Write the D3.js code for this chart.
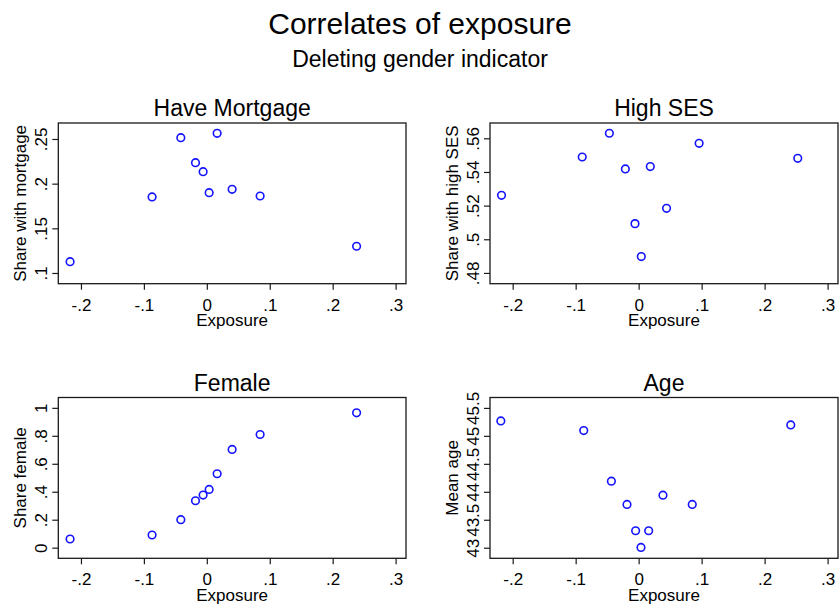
<!DOCTYPE html>
<html>
<head>
<meta charset="utf-8">
<script src="https://cdn.jsdelivr.net/npm/d3@7"></script>
<style>
  html, body { margin: 0; padding: 0; background: #ffffff; }
  svg { display: block; font-family: "Liberation Sans", Arial, Helvetica, sans-serif; }
</style>
</head>
<body>
<svg id="chart" width="839" height="604"></svg>
<script>
// Binned exposure values and outcome means, one set per panel
const xTicks = [-0.2, -0.1, 0, 0.1, 0.2, 0.3];

const mortgageExposure = [-0.2173, -0.0870, -0.0413, -0.0180, -0.0059, 0.0037, 0.0164, 0.0402, 0.0847, 0.2380];
const mortgageShare    = [0.1127, 0.1851, 0.2515, 0.2235, 0.2134, 0.1899, 0.2563, 0.1937, 0.1862, 0.1299];
const mortgageTicks    = [0.1, 0.15, 0.2, 0.25];

const sesExposure = [-0.2177, -0.0896, -0.0465, -0.0211, -0.0058, 0.0042, 0.0185, 0.0443, 0.0960, 0.2526];
const sesShare    = [0.5261, 0.5489, 0.5630, 0.5418, 0.5093, 0.4897, 0.5432, 0.5184, 0.5570, 0.5481];
const sesTicks    = [0.48, 0.5, 0.52, 0.54, 0.56];

const femaleExposure = [-0.2173, -0.0870, -0.0413, -0.0180, -0.0059, 0.0037, 0.0164, 0.0402, 0.0847, 0.2380];
const femaleShare    = [0.0619, 0.0905, 0.2000, 0.3357, 0.3762, 0.4167, 0.5286, 0.7024, 0.8095, 0.9643];
const femaleTicks    = [0, 0.2, 0.4, 0.6, 0.8, 1];

const ageExposure = [-0.2188, -0.0872, -0.0433, -0.0185, -0.0048, 0.0037, 0.0159, 0.0386, 0.0851, 0.2415];
const ageMean     = [45.268, 45.095, 44.190, 43.774, 43.304, 43.006, 43.304, 43.940, 43.774, 45.196];
const ageTicks    = [43, 43.5, 44, 44.5, 45, 45.5];

const panelTitles = ["Have Mortgage", "High SES", "Female", "Age"];
const yTitles = ["Share with mortgage", "Share with high SES", "Share female", "Mean age"];
const xTitle = "Exposure";

const panels = [
  { title: panelTitles[0], yTitle: yTitles[0], xs: mortgageExposure, ys: mortgageShare, yTicks: mortgageTicks,
    yDomain: [0.088, 0.2679], box: { x: 58.3, y: 123, w: 347.7, h: 160.7 } },
  { title: panelTitles[1], yTitle: yTitles[1], xs: sesExposure, ys: sesShare, yTicks: sesTicks,
    yDomain: [0.4736, 0.5691], box: { x: 490, y: 123, w: 348, h: 160.7 } },
  { title: panelTitles[2], yTitle: yTitles[2], xs: femaleExposure, ys: femaleShare, yTicks: femaleTicks,
    yDomain: [-0.076, 1.074], box: { x: 58.3, y: 397.5, w: 347.7, h: 160.8 } },
  { title: panelTitles[3], yTitle: yTitles[3], xs: ageExposure, ys: ageMean, yTicks: ageTicks,
    yDomain: [42.811, 45.686], box: { x: 490, y: 397.5, w: 348, h: 160.8 } }
];

const xDomain = [-0.2360, 0.3165];

// Stata-style numbers: plain hyphen, no leading zero
function fmt(v) {
  let s = String(+(+v).toFixed(4));
  s = s.replace(/^(-?)0\./, "$1.");
  return s;
}

const svg = d3.select("#chart");

svg.append("text")
  .attr("x", 420).attr("y", 34)
  .attr("text-anchor", "middle")
  .attr("font-size", 30)
  .attr("fill", "#000")
  .text("Correlates of exposure");

svg.append("text")
  .attr("x", 420).attr("y", 67)
  .attr("text-anchor", "middle")
  .attr("font-size", 23)
  .attr("fill", "#000")
  .text("Deleting gender indicator");

const inkColor = "#1a1a1a";
const markerColor = "#1414ff";

panels.forEach(p => {
  const b = p.box;
  const g = svg.append("g").attr("transform", `translate(${b.x},${b.y})`);

  const x = d3.scaleLinear().domain(xDomain).range([0, b.w]);
  const y = d3.scaleLinear().domain(p.yDomain).range([b.h, 0]);

  // panel title
  g.append("text")
    .attr("x", b.w / 2).attr("y", -7)
    .attr("text-anchor", "middle")
    .attr("font-size", 23)
    .attr("fill", "#000")
    .text(p.title);

  // x axis
  const xAxis = g.append("g")
    .attr("transform", `translate(0,${b.h})`)
    .call(d3.axisBottom(x).tickValues(xTicks).tickFormat(fmt).tickSize(6).tickSizeOuter(0));
  xAxis.select(".domain").remove();
  xAxis.selectAll(".tick line").attr("stroke", inkColor).attr("stroke-width", 1.2);
  xAxis.selectAll(".tick text")
    .attr("font-size", 17)
    .attr("font-family", null)
    .attr("fill", "#000")
    .attr("dy", null)
    .attr("y", 27);

  // y axis with vertical tick labels
  const yAxis = g.append("g")
    .call(d3.axisLeft(y).tickValues(p.yTicks).tickFormat(fmt).tickSize(6).tickSizeOuter(0));
  yAxis.select(".domain").remove();
  yAxis.selectAll(".tick line").attr("stroke", inkColor).attr("stroke-width", 1.2);
  yAxis.selectAll(".tick text")
    .attr("font-size", 17)
    .attr("font-family", null)
    .attr("fill", "#000")
    .attr("x", null).attr("dy", null)
    .attr("text-anchor", "middle")
    .attr("transform", "translate(-11,0) rotate(-90)");

  // frame
  g.append("rect")
    .attr("x", 0).attr("y", 0)
    .attr("width", b.w).attr("height", b.h)
    .attr("fill", "none")
    .attr("stroke", inkColor)
    .attr("stroke-width", 1.3);

  // axis titles
  g.append("text")
    .attr("x", b.w / 2).attr("y", b.h + 42.5)
    .attr("text-anchor", "middle")
    .attr("font-size", 17)
    .attr("fill", "#000")
    .text(xTitle);

  g.append("text")
    .attr("transform", `translate(-32,${b.h / 2}) rotate(-90)`)
    .attr("text-anchor", "middle")
    .attr("font-size", 17)
    .attr("fill", "#000")
    .text(p.yTitle);

  // markers
  const pts = p.xs.map((v, i) => ({ ex: v, val: p.ys[i] }));
  g.selectAll("circle.pt")
    .data(pts)
    .join("circle")
    .attr("class", "pt")
    .attr("cx", d => x(d.ex))
    .attr("cy", d => y(d.val))
    .attr("r", 3.8)
    .attr("fill", "none")
    .attr("stroke", markerColor)
    .attr("stroke-width", 1.6);
});
</script>
</body>
</html>
